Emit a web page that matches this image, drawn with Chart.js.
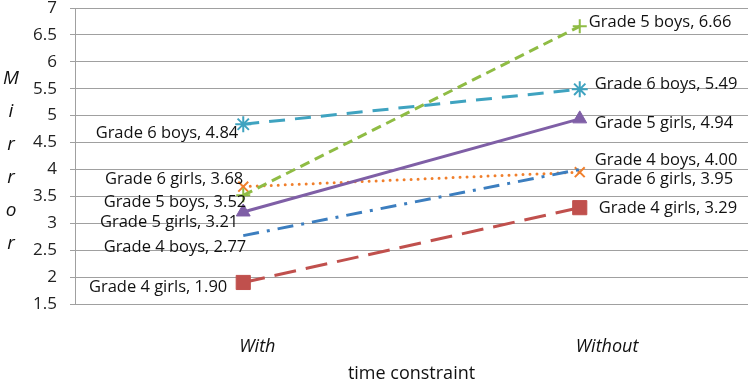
<!DOCTYPE html>
<html>
<head>
<meta charset="utf-8">
<script src="https://cdn.jsdelivr.net/npm/chart.js@4"></script>
<style>
  html, body { margin: 0; padding: 0; background: #fff; }
  #wrap { width: 754px; height: 382px; }
</style>
</head>
<body>
<div id="wrap"><canvas id="chart" width="754" height="382"></canvas></div>
<script>
// --- data ---
const categories = ['With', 'Without'];
const seriesNames = ['Grade 4 girls', 'Grade 4 boys', 'Grade 5 girls', 'Grade 5 boys', 'Grade 6 girls', 'Grade 6 boys'];
const grade4Girls = [1.90, 3.29];
const grade4Boys = [2.77, 4.00];
const grade5Girls = [3.21, 4.94];
const grade5Boys = [3.52, 6.66];
const grade6Girls = [3.68, 3.95];
const grade6Boys = [4.84, 5.49];
const yTicks = [1.5, 2, 2.5, 3, 3.5, 4, 4.5, 5, 5.5, 6, 6.5, 7];
const yTitle = 'Mirror';
const xTitle = 'time constraint';

const FONT = "'Open Sans', 'Liberation Sans', sans-serif";

// label nudges (pixels from the point): [dx, dy] for With and Without
const labelNudge = [
    [[-16, 5], [19, 1]],
    [[3, 12], [15, -9]],
    [[-5, 10], [15, 4]],
    [[3, 7], [9, -4]],
    [[0, -7], [15, 7]],
    [[-5, 9], [15, -5]]
];

const makeSet = (i, values, color, dash, style, radius) => ({
    label: seriesNames[i],
    data: values,
    borderColor: color,
    backgroundColor: color,
    borderWidth: 3,
    borderDash: dash,
    pointStyle: style,
    pointRadius: radius,
    pointBorderWidth: style === 'cross' || style === 'crossRot' || style === 'star' ? 2 : 1,
    tension: 0
});

const datasets = [
    makeSet(0, grade4Girls, '#c0504d', [22, 10], 'rect', 10),
    makeSet(1, grade4Boys, '#3c7ebf', [16, 8, 3, 8], false, 0),
    makeSet(2, grade5Girls, '#7f5fa6', [], 'triangle', 8),
    makeSet(3, grade5Boys, '#8fbc44', [10, 6], 'cross', 7),
    Object.assign(makeSet(4, grade6Girls, '#f07f2c', [0, 7], 'crossRot', 7), { borderCapStyle: 'round' }),
    makeSet(5, grade6Boys, '#3fa3c0', [16, 10], 'star', 8)
];

// --- value labels next to each end point ---
const valueLabels = {
    id: 'valueLabels',
    afterDatasetsDraw(chart) {
        const ctx = chart.ctx;
        ctx.save();
        ctx.font = '16.5px ' + FONT;
        ctx.fillStyle = '#111';
        ctx.textBaseline = 'middle';
        chart.data.datasets.forEach((ds, i) => {
            const meta = chart.getDatasetMeta(i);
            meta.data.forEach((pt, j) => {
                const [dx, dy] = labelNudge[i][j];
                const text = ds.label + ', ' + ds.data[j].toFixed(2);
                ctx.textAlign = j === 0 ? 'right' : 'left';
                ctx.fillText(text, pt.x + dx, pt.y + dy);
            });
        });
        ctx.restore();
    }
};

// --- stacked letters for the y title ---
const stackedTitle = {
    id: 'stackedTitle',
    afterDraw(chart) {
        const ctx = chart.ctx;
        const letters = yTitle.split('');
        ctx.save();
        ctx.font = 'italic 19px ' + FONT;
        ctx.fillStyle = '#111';
        ctx.textAlign = 'center';
        ctx.textBaseline = 'middle';
        letters.forEach((ch, k) => {
            ctx.fillText(ch, 11, 79 + k * 33);
        });
        ctx.restore();
    }
};

new Chart(document.getElementById('chart'), {
    type: 'line',
    data: { labels: categories, datasets: datasets },
    options: {
        responsive: false,
        animation: false,
        layout: { autoPadding: false, padding: { left: 22, right: 6, top: 0, bottom: 0 } },
        plugins: {
            legend: { display: false },
            tooltip: { enabled: false }
        },
        scales: {
            x: {
                offset: true,
                grid: { display: false },
                border: { display: false },
                ticks: {
                    color: '#111',
                    padding: 24,
                    align: 'start',
                    labelOffset: -4,
                    font: { family: FONT, size: 18, style: 'italic' }
                },
                title: {
                    display: true,
                    text: xTitle,
                    color: '#111',
                    padding: { top: 2, bottom: -3 },
                    font: { family: FONT, size: 18 }
                },
                afterFit: s => { s.height = 78; }
            },
            y: {
                min: 1.5,
                max: 7,
                afterBuildTicks: s => { s.ticks = yTicks.map(v => ({ value: v })); },
                grid: { color: '#a0a0a0', lineWidth: 1, tickLength: 5 },
                border: { display: true, color: '#a0a0a0' },
                ticks: {
                    color: '#222',
                    padding: 13,
                    font: { family: FONT, size: 17 },
                    callback: v => String(v)
                },
                afterFit: s => {
                    s.width = 53;
                    s.paddingTop = 8;
                    s.paddingBottom = 0;
                }
            }
        }
    },
    plugins: [valueLabels, stackedTitle]
});
</script>
</body>
</html>
